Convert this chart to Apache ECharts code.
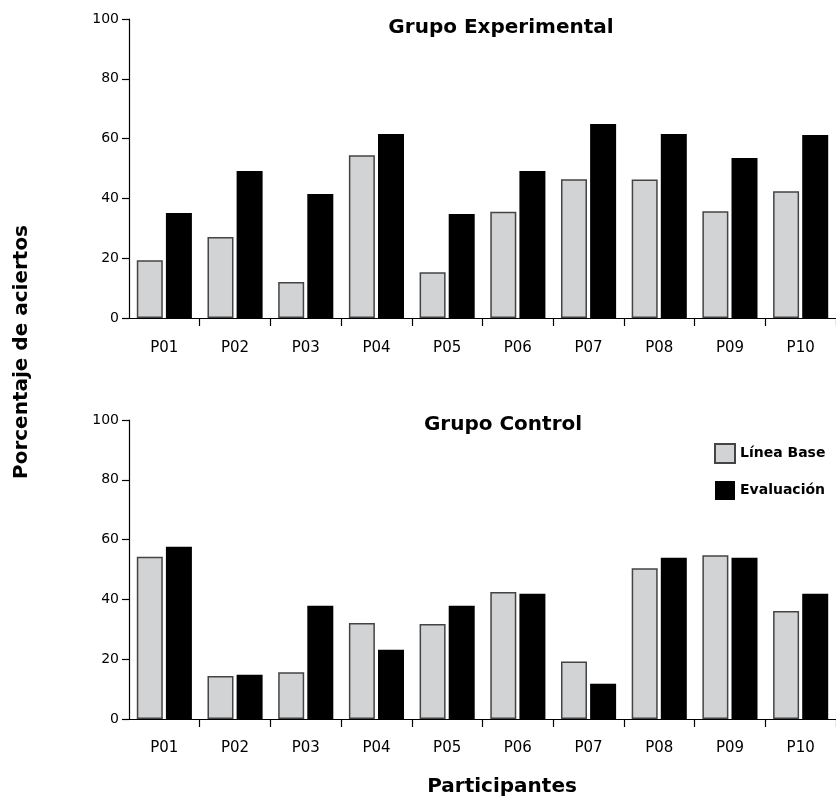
<!DOCTYPE html>
<html>
<head>
<meta charset="utf-8">
<script src="https://cdn.jsdelivr.net/npm/echarts@6/dist/echarts.min.js"></script>
<style>
html,body{margin:0;padding:0;background:#fff;}
#main{width:836px;height:801px;}
</style>
</head>
<body>
<div id="main"></div>
<script>
const categories = ['P01','P02','P03','P04','P05','P06','P07','P08','P09','P10'];
const seriesNames = ['Línea Base','Evaluación'];
const expBase = [19.3, 27.1, 12.0, 54.4, 15.3, 35.5, 46.4, 46.3, 35.7, 42.4];
const expEval = [35.1, 49.2, 41.5, 61.5, 34.8, 49.2, 64.9, 61.5, 53.5, 61.2];
const ctlBase = [54.3, 14.4, 15.6, 32.1, 31.8, 42.5, 19.2, 50.4, 54.8, 36.1];
const ctlEval = [57.6, 14.8, 37.9, 23.2, 37.9, 41.9, 11.8, 53.9, 53.9, 41.9];
const panelTitles = ['Grupo Experimental','Grupo Control'];
const yTitle = 'Porcentaje de aciertos';
const xTitle = 'Participantes';

const FONT = '"DejaVu Sans", "Open Sans", sans-serif';
const grayStyle = {color:'#d2d3d5', borderColor:'#444', borderWidth:1.5};
const blackStyle = {color:'#000'};

function xAxis(idx, margin){
  return {
    type:'category', gridIndex:idx, data:categories,
    axisLine:{lineStyle:{color:'#000', width:1.2}},
    axisTick:{show:true, length:8, interval:function(i){return i!==0;}, lineStyle:{color:'#000', width:1.2}},
    axisLabel:{color:'#000', fontSize:15, margin:margin, interval:0, fontFamily:FONT}
  };
}
function yAxis(idx){
  return {
    type:'value', gridIndex:idx, min:0, max:100, interval:20,
    axisLine:{show:true, lineStyle:{color:'#000', width:1.2}},
    axisTick:{show:true, length:7, lineStyle:{color:'#000', width:1.2}},
    axisLabel:{color:'#000', fontSize:14, margin:10, fontFamily:FONT},
    splitLine:{show:false}
  };
}
function bar(name, data, idx, style){
  return {
    name:name, type:'bar', xAxisIndex:idx, yAxisIndex:idx, data:data,
    barWidth:26, barGap:'12%', itemStyle:style, animation:false
  };
}

const chart = echarts.init(document.getElementById('main'));
chart.setOption({
  backgroundColor:'#fff',
  animation:false,
  textStyle:{fontFamily:FONT},
  grid:[
    {left:129, top:19, height:299, right:-6},
    {left:129, top:420, height:299, right:-6}
  ],
  xAxis:[xAxis(0,23), xAxis(1,22)],
  yAxis:[yAxis(0), yAxis(1)],
  legend:{
    data:seriesNames, orient:'vertical', left:709, top:438,
    icon:'rect', itemWidth:20, itemHeight:19, itemGap:17,
    textStyle:{fontWeight:'bold', fontSize:14, color:'#000', fontFamily:FONT}
  },
  series:[
    bar(seriesNames[0], expBase, 0, grayStyle),
    bar(seriesNames[1], expEval, 0, blackStyle),
    bar(seriesNames[0], ctlBase, 1, grayStyle),
    bar(seriesNames[1], ctlEval, 1, blackStyle)
  ],
  graphic:[
    {type:'text', x:501, y:28, style:{text:panelTitles[0], font:'bold 20px '+FONT, fill:'#000', textAlign:'center', textVerticalAlign:'middle'}},
    {type:'text', x:503, y:425, style:{text:panelTitles[1], font:'bold 20px '+FONT, fill:'#000', textAlign:'center', textVerticalAlign:'middle'}},
    {type:'text', x:22, y:352, rotation:Math.PI/2, style:{text:yTitle, font:'bold 20px '+FONT, fill:'#000', textAlign:'center', textVerticalAlign:'middle'}},
    {type:'text', x:502, y:787, style:{text:xTitle, font:'bold 20px '+FONT, fill:'#000', textAlign:'center', textVerticalAlign:'middle'}}
  ]
});
</script>
</body>
</html>
